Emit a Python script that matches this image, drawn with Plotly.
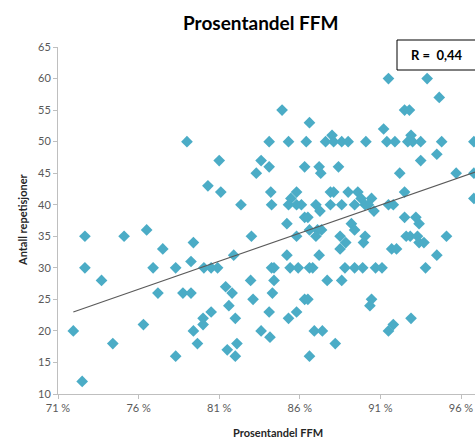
import plotly.graph_objects as go

# ---- data (x = Prosentandel FFM in %, y = Antall repetisjoner) ----
pts = {
    60: [91.5, 93.9],
    57: [94.65],
    55: [84.9, 92.5, 92.8],
    53: [86.6],
    52: [91.2],
    51: [88.0, 92.9],
    50: [79.0, 84.1, 85.3, 86.4, 87.6, 88.1, 88.6, 89.0, 90.1, 91.4, 91.9, 92.7, 93.0, 93.5, 94.8, 96.8],
    48: [94.5],
    47: [81.0, 83.6, 93.5],
    46: [84.1, 86.3, 87.2, 88.4],
    45: [83.3, 87.3, 92.2, 95.7, 96.8],
    43: [80.3],
    42: [81.1, 84.2, 85.8, 87.9, 88.1, 89.0, 89.6, 92.5],
    41: [85.45, 89.8, 90.45, 96.8],
    40: [82.35, 84.25, 85.3, 85.8, 86.1, 87.0, 87.9, 88.6, 89.4, 90.05, 90.25, 91.5, 91.8],
    39: [87.25, 90.6],
    38: [86.3, 86.5, 92.5, 93.2],
    37: [85.2, 89.2, 93.4],
    36: [76.5, 86.6, 87.1, 87.35, 89.4],
    35: [72.67, 75.1, 83.0, 85.8, 87.0, 88.5, 90.05, 92.6, 92.85, 93.3, 95.1],
    34: [79.4, 88.85, 89.95, 93.4, 93.7],
    33: [77.5, 88.5, 91.7, 92.0],
    32: [81.9, 85.2, 87.2, 94.5],
    31: [79.25],
    30: [72.67, 76.9, 78.3, 80.05, 80.5, 80.9, 84.25, 84.4, 85.4, 85.9, 86.6, 86.8,
         88.8, 89.4, 89.9, 90.7, 91.1, 93.8],
    28: [73.7, 82.95, 84.4, 87.7, 88.6],
    27: [81.4],
    26: [77.2, 78.75, 79.25, 81.8, 84.3],
    25: [83.1, 86.3, 86.5, 90.45],
    24: [81.6, 90.35],
    23: [80.5, 84.1, 85.8],
    22: [80.0, 82.0, 85.3, 92.9],
    21: [76.3, 80.0, 91.8],
    20: [71.95, 79.4, 83.6, 86.9, 87.4, 91.5],
    19: [84.15],
    18: [74.4, 79.65, 82.1, 88.2],
    17: [81.5],
    16: [78.3, 82.0, 86.6],
    12: [72.5],
}
ffm_pct = [x for y, xs in pts.items() for x in xs]
repetisjoner = [y for y, xs in pts.items() for x in xs]

trend_x = [71.95, 96.9]
trend_y = [23.0, 45.2]

x_tickvals = [71, 76, 81, 86, 91, 96]
x_ticktext = ["71\u00a0%", "76\u00a0%", "81\u00a0%", "86\u00a0%", "91\u00a0%", "96\u00a0%"]
y_tickvals = [10, 15, 20, 25, 30, 35, 40, 45, 50, 55, 60, 65]

title_text = "Prosentandel FFM"
x_title = "Prosentandel FFM"
y_title = "Antall repetisjoner"
r_text = "R =  0,44"

W, H = 475, 439
L, R, T, B = 58, 0, 47, 45

fig = go.Figure()
fig.add_trace(go.Scatter(
    x=ffm_pct, y=repetisjoner, mode="markers",
    marker=dict(symbol="diamond", size=9, color="#4bacc6", line=dict(width=0)),
    showlegend=False, cliponaxis=False,
))
fig.add_trace(go.Scatter(
    x=trend_x, y=trend_y, mode="lines",
    line=dict(color="#5a5a5a", width=1.1), showlegend=False,
))

font_fam = "Lato, 'Open Sans', sans-serif"
fig.update_layout(
    width=W, height=H,
    margin=dict(l=L, r=R, t=T, b=B),
    paper_bgcolor="white", plot_bgcolor="white",
    font=dict(family=font_fam, color="#404040", size=11),
    xaxis=dict(
        range=[71, 71 + (W - L - R) / 16.12],
        tickvals=x_tickvals, ticktext=x_ticktext,
        showgrid=False, zeroline=False,
        showline=True, linecolor="#bfbfbf", linewidth=1,
        ticks="outside", ticklen=4, tickcolor="#bfbfbf",
        tickfont=dict(size=11, color="#595959"),
    ),
    yaxis=dict(
        range=[10, 65],
        tickvals=y_tickvals,
        showgrid=False, zeroline=False,
        showline=True, linecolor="#bfbfbf", linewidth=1,
        ticks="outside", ticklen=4, tickcolor="#bfbfbf",
        tickfont=dict(size=11, color="#595959"),
    ),
    annotations=[
        dict(text="<b>" + title_text + "</b>", xref="paper", yref="paper",
             x=(261 - L) / (W - L - R), y=1 + (T - 22) / (H - T - B),
             xanchor="center", yanchor="middle", showarrow=False,
             font=dict(size=19, color="#000000", family=font_fam)),
        dict(text="<b>" + x_title + "</b>", xref="paper", yref="paper",
             x=(278 - L) / (W - L - R), y=-(432 - (H - B)) / (H - T - B),
             xanchor="center", yanchor="middle", showarrow=False,
             font=dict(size=11, color="#262626", family=font_fam)),
        dict(text="<b>" + y_title + "</b>", xref="paper", yref="paper",
             x=-(L - 22) / (W - L - R), y=(H - B - 220) / (H - T - B),
             xanchor="center", yanchor="middle", showarrow=False, textangle=-90,
             font=dict(size=11, color="#262626", family=font_fam)),
        dict(text="<b>" + r_text + "</b>", xref="paper", yref="paper",
             x=(436 - L) / (W - L - R), y=(H - B - 55) / (H - T - B),
             xanchor="center", yanchor="middle", showarrow=False,
             font=dict(size=13, color="#000000", family=font_fam)),
    ],
    shapes=[
        dict(type="rect", xref="paper", yref="paper",
             x0=(397 - L) / (W - L - R), x1=(480 - L) / (W - L - R),
             y0=(H - B - 70) / (H - T - B), y1=(H - B - 40) / (H - T - B),
             line=dict(color="#000000", width=1), fillcolor="white", layer="above"),
    ],
)
fig.write_html("out.html")
